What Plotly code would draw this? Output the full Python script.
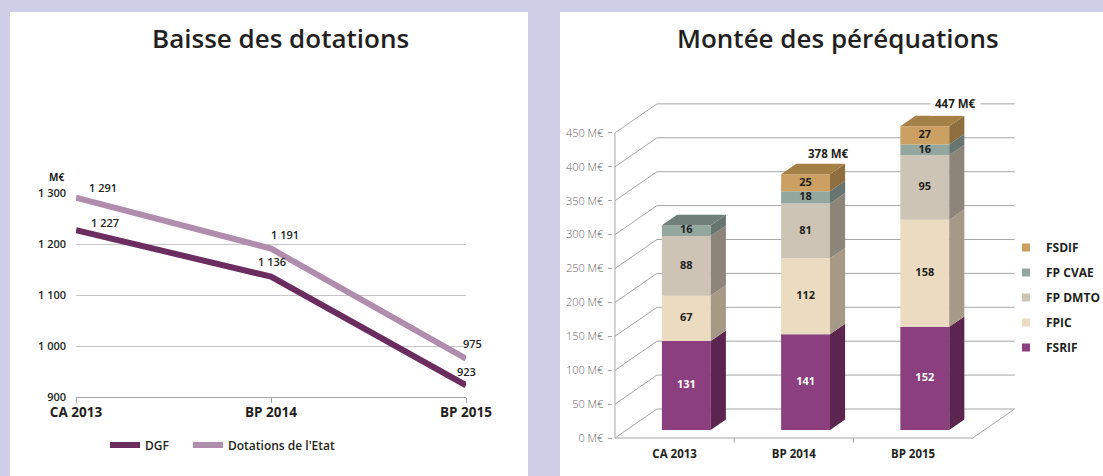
import plotly.graph_objects as go

# ---------------- Data ----------------
# Left chart: "Baisse des dotations"
line_categories = ["CA 2013", "BP 2014", "BP 2015"]
dgf_values = [1227, 1136, 923]
dotations_values = [1291, 1191, 975]
left_yticks = [900, 1000, 1100, 1200, 1300]

# Right chart: "Montée des péréquations"
bar_categories = ["CA 2013", "BP 2014", "BP 2015"]
fsrif = [131, 141, 152]
fpic = [67, 112, 158]
fp_dmto = [88, 81, 95]
fp_cvae = [16, 18, 16]
fsdif = [0, 25, 27]
total_labels = ["", "378 M€", "447 M€"]
right_yticks = [0, 50, 100, 150, 200, 250, 300, 350, 400, 450]

# ---------------- Styles ----------------
W, H = 1103, 476
LAV = "#CFCEE6"
FONT = "Open Sans"
DARK = "#231F20"
GRID = "#A6A6A6"

def px_x(p):
    return p / W

def px_y(p):
    return 1 - p / H

series = [
    # name, values, front, side, top, label colour
    ("FSRIF", fsrif, "#8B3F7E", "#5B2550", "#6E2F63", "white"),
    ("FPIC", fpic, "#EADBC1", "#A69985", "#C2B49E", DARK),
    ("FP DMTO", fp_dmto, "#CEC4B5", "#8E857A", "#A69D90", DARK),
    ("FP CVAE", fp_cvae, "#93A79E", "#66756F", "#6F807A", DARK),
    ("FSDIF", fsdif, "#CBA062", "#8E6E3E", "#A58148", DARK),
]

# pseudo-3D geometry (in axis units)
DX, DY = 0.352, 42.8      # full depth offset of the back wall
D0, D1 = 0.28, 0.64       # bar front / back depth fractions
BW = 0.41                 # bar width

fig = go.Figure()

# ---------------- Left chart ----------------
fig.add_trace(go.Scatter(
    x=line_categories, y=dgf_values, name="DGF", mode="lines",
    line=dict(color="#6B2C5F", width=6), xaxis="x", yaxis="y",
    legend="legend2", hoverinfo="skip"))
fig.add_trace(go.Scatter(
    x=line_categories, y=dotations_values, name="Dotations de l'Etat", mode="lines",
    line=dict(color="#B08DAC", width=6), xaxis="x", yaxis="y",
    legend="legend3", hoverinfo="skip"))

def fmt(v):
    return f"{v:,}".replace(",", " ")

annotations = []
dgf_shifts = [(29, 8), (1, 15), (0, 14)]
dot_shifts = [(27, 10), (14, 14), (6, 15)]
for cat, v, (sx, sy) in zip(line_categories, dgf_values, dgf_shifts):
    annotations.append(dict(x=cat, y=v, xref="x", yref="y", text=fmt(v), showarrow=False,
                            xshift=sx, yshift=sy,
                            font=dict(family=FONT, size=11, color=DARK, weight=600)))
for cat, v, (sx, sy) in zip(line_categories, dotations_values, dot_shifts):
    annotations.append(dict(x=cat, y=v, xref="x", yref="y", text=fmt(v), showarrow=False,
                            xshift=sx, yshift=sy,
                            font=dict(family=FONT, size=11, color=DARK, weight=600)))

# ---------------- Right chart ----------------
n = len(bar_categories)
bases = [0] * n
side_x = {s[0]: [] for s in series}
side_y = {s[0]: [] for s in series}
lab_x, lab_y, lab_t, lab_c = [], [], [], []
top_info = [None] * n
for name, vals, front, side, top, lc in series:
    xs, ys, bs = [], [], []
    for i in range(n):
        v = vals[i]
        b = bases[i]
        xs.append(i + D0 * DX)
        ys.append(v)
        bs.append(b + D0 * DY)
        if v > 0:
            xr = i + D0 * DX + BW / 2
            dd = D1 - D0
            side_x[name] += [xr, xr, xr + dd * DX, xr + dd * DX, xr, None]
            side_y[name] += [b + D0 * DY, b + v + D0 * DY, b + v + D1 * DY, b + D1 * DY, b + D0 * DY, None]
            lab_x.append(i + D0 * DX)
            lab_y.append(b + v / 2 + D0 * DY)
            lab_t.append(str(v))
            lab_c.append(lc)
            top_info[i] = (b + v, top)
        bases[i] = b + v
    fig.add_trace(go.Bar(
        x=xs, y=ys, base=bs, width=BW, marker=dict(color=front, line=dict(width=0)),
        xaxis="x2", yaxis="y2", showlegend=False, hoverinfo="skip", name=name))

for name, vals, front, side, top, lc in series:
    fig.add_trace(go.Scatter(
        x=side_x[name], y=side_y[name], mode="lines", fill="toself", fillcolor=side,
        line=dict(width=0, color=side), xaxis="x2", yaxis="y2", showlegend=False,
        hoverinfo="skip"))

for i in range(n):
    ytop, tcol = top_info[i]
    xl = i + D0 * DX - BW / 2
    xr = i + D0 * DX + BW / 2
    dd = D1 - D0
    fig.add_trace(go.Scatter(
        x=[xl, xr, xr + dd * DX, xl + dd * DX, xl],
        y=[ytop + D0 * DY, ytop + D0 * DY, ytop + D1 * DY, ytop + D1 * DY, ytop + D0 * DY],
        mode="lines", fill="toself", fillcolor=tcol, line=dict(width=0, color=tcol),
        xaxis="x2", yaxis="y2", showlegend=False, hoverinfo="skip"))

fig.add_trace(go.Scatter(
    x=lab_x, y=lab_y, text=lab_t, mode="text",
    textfont=dict(family=FONT, size=11, color=lab_c, weight=700),
    xaxis="x2", yaxis="y2", showlegend=False, hoverinfo="skip"))

# legend entries (top to bottom: FSDIF ... FSRIF)
for name, vals, front, side, top, lc in reversed(series):
    fig.add_trace(go.Scatter(
        x=[None], y=[None], mode="markers", name=name, legendgroup=name,
        marker=dict(symbol="square", size=8, color=front),
        xaxis="x2", yaxis="y2", legend="legend"))

# total labels
for i, t in enumerate(total_labels):
    if not t:
        continue
    if i == n - 1:
        annotations.append(dict(x=i + D1 * DX, y=right_yticks[-1] + DY, xref="x2", yref="y2",
                                text=t, showarrow=False, xshift=16, bgcolor="white", borderpad=4,
                                font=dict(family=FONT, size=11.5, color=DARK, weight=700)))
    else:
        annotations.append(dict(x=i + D1 * DX, y=bases[i] + D1 * DY, xref="x2", yref="y2",
                                text=t, showarrow=False, xshift=8, yshift=10,
                                font=dict(family=FONT, size=11.5, color=DARK, weight=700)))

# grid / walls as shapes computed from the ticks
shapes = [
    dict(type="rect", xref="paper", yref="paper", x0=px_x(10), x1=px_x(528),
         y0=0, y1=px_y(12), fillcolor="white", line=dict(width=0), layer="below"),
    dict(type="rect", xref="paper", yref="paper", x0=px_x(560), x1=1.0,
         y0=0, y1=px_y(12), fillcolor="white", line=dict(width=0), layer="below"),
]
gl = dict(color=GRID, width=1)
x_left, x_right = -0.5, n - 0.5
for v in right_yticks:
    shapes.append(dict(type="line", xref="x2", yref="y2", x0=x_left, y0=v,
                       x1=x_left + DX, y1=v + DY, line=gl, layer="between"))
    shapes.append(dict(type="line", xref="x2", yref="y2", x0=x_left + DX, y0=v + DY,
                       x1=x_right + DX, y1=v + DY, line=gl, layer="between"))
shapes.append(dict(type="line", xref="x2", yref="y2", x0=x_left, y0=0, x1=x_right, y1=0,
                   line=gl, layer="between"))
shapes.append(dict(type="line", xref="x2", yref="y2", x0=x_right, y0=0, x1=x_right + DX, y1=DY,
                   line=gl, layer="between"))
shapes.append(dict(type="line", xref="x2", yref="y2", x0=x_left, y0=0, x1=x_left,
                   y1=right_yticks[-1], line=gl, layer="between"))
for k in range(1, n):
    shapes.append(dict(type="line", xref="x2", yref="y2", x0=k - 0.5, y0=0, x1=k - 0.5,
                       y1=-7, line=gl, layer="between"))

# titles and unit
annotations += [
    dict(x=px_x(280), y=px_y(38), xref="paper", yref="paper", text="Baisse des dotations",
         xanchor="center", yanchor="middle",
         showarrow=False, font=dict(family=FONT, size=26, color=DARK, weight=600)),
    dict(x=px_x(838), y=px_y(38), xref="paper", yref="paper", text="Montée des péréquations",
         xanchor="center", yanchor="middle",
         showarrow=False, font=dict(family=FONT, size=26, color=DARK, weight=600)),
    dict(x=px_x(66), y=px_y(177), xref="paper", yref="paper", text="M€", xanchor="right",
         yanchor="middle",
         showarrow=False, font=dict(family=FONT, size=10, color=DARK, weight=700)),
]

legend_left_font = dict(family=FONT, size=12, color=DARK, weight=600)

fig.update_layout(
    width=W, height=H, autosize=False,
    margin=dict(l=0, r=0, t=0, b=0, pad=0, autoexpand=False),
    paper_bgcolor=LAV, plot_bgcolor="rgba(0,0,0,0)",
    font=dict(family=FONT, color=DARK),
    barmode="overlay",
    xaxis=dict(domain=[px_x(76), px_x(466)], range=[0, 2], type="category",
               showline=True, linecolor=GRID, linewidth=1, ticks="outside", ticklen=5,
               tickcolor=GRID, showgrid=False, zeroline=False, ticklabelstandoff=-2,
               tickfont=dict(family=FONT, size=13.5, color=DARK, weight=700),
               fixedrange=True),
    yaxis=dict(domain=[px_y(397), px_y(193)], range=[900, 1300],
               tickvals=left_yticks, ticktext=[fmt(v) for v in left_yticks],
               showgrid=True, gridcolor="#C6C6C6", gridwidth=1, zeroline=False,
               showline=False, ticks="", ticklabelstandoff=9,
               tickfont=dict(family=FONT, size=11, color=DARK, weight=600),
               fixedrange=True),
    xaxis2=dict(domain=[px_x(612.6), px_x(1017)], range=[-0.52, n - 0.5 + DX + 0.02],
                tickvals=list(range(n)), ticktext=bar_categories, showgrid=False,
                zeroline=False, showline=False, ticks="", ticklabelstandoff=1,
                tickfont=dict(family=FONT, size=11.5, color=DARK, weight=700),
                anchor="y2", fixedrange=True),
    yaxis2=dict(domain=[px_y(444.8), px_y(99)], range=[-10, 500],
                tickvals=right_yticks, ticktext=[f"{v} M€" for v in right_yticks],
                showgrid=False, zeroline=False, showline=False,
                ticks="outside", ticklen=4, tickcolor=GRID, ticklabelstandoff=2,
                tickfont=dict(family=FONT, size=11, color="#666666", weight=300),
                anchor="x2", fixedrange=True),
    legend=dict(x=px_x(1006), y=px_y(233), xanchor="left", yanchor="top",
                bgcolor="rgba(0,0,0,0)", tracegroupgap=6,
                font=dict(family=FONT, size=12, color=DARK, weight=700)),
    legend2=dict(x=px_x(105), y=px_y(445), xanchor="left", yanchor="middle",
                 orientation="h", bgcolor="rgba(0,0,0,0)", font=legend_left_font),
    legend3=dict(x=px_x(188), y=px_y(445), xanchor="left", yanchor="middle",
                 orientation="h", bgcolor="rgba(0,0,0,0)", font=legend_left_font),
    shapes=shapes,
    annotations=annotations,
    showlegend=True,
)

fig.write_html("out.html", config={"displayModeBar": False},
               post_script="document.body.style.margin='0px';")
